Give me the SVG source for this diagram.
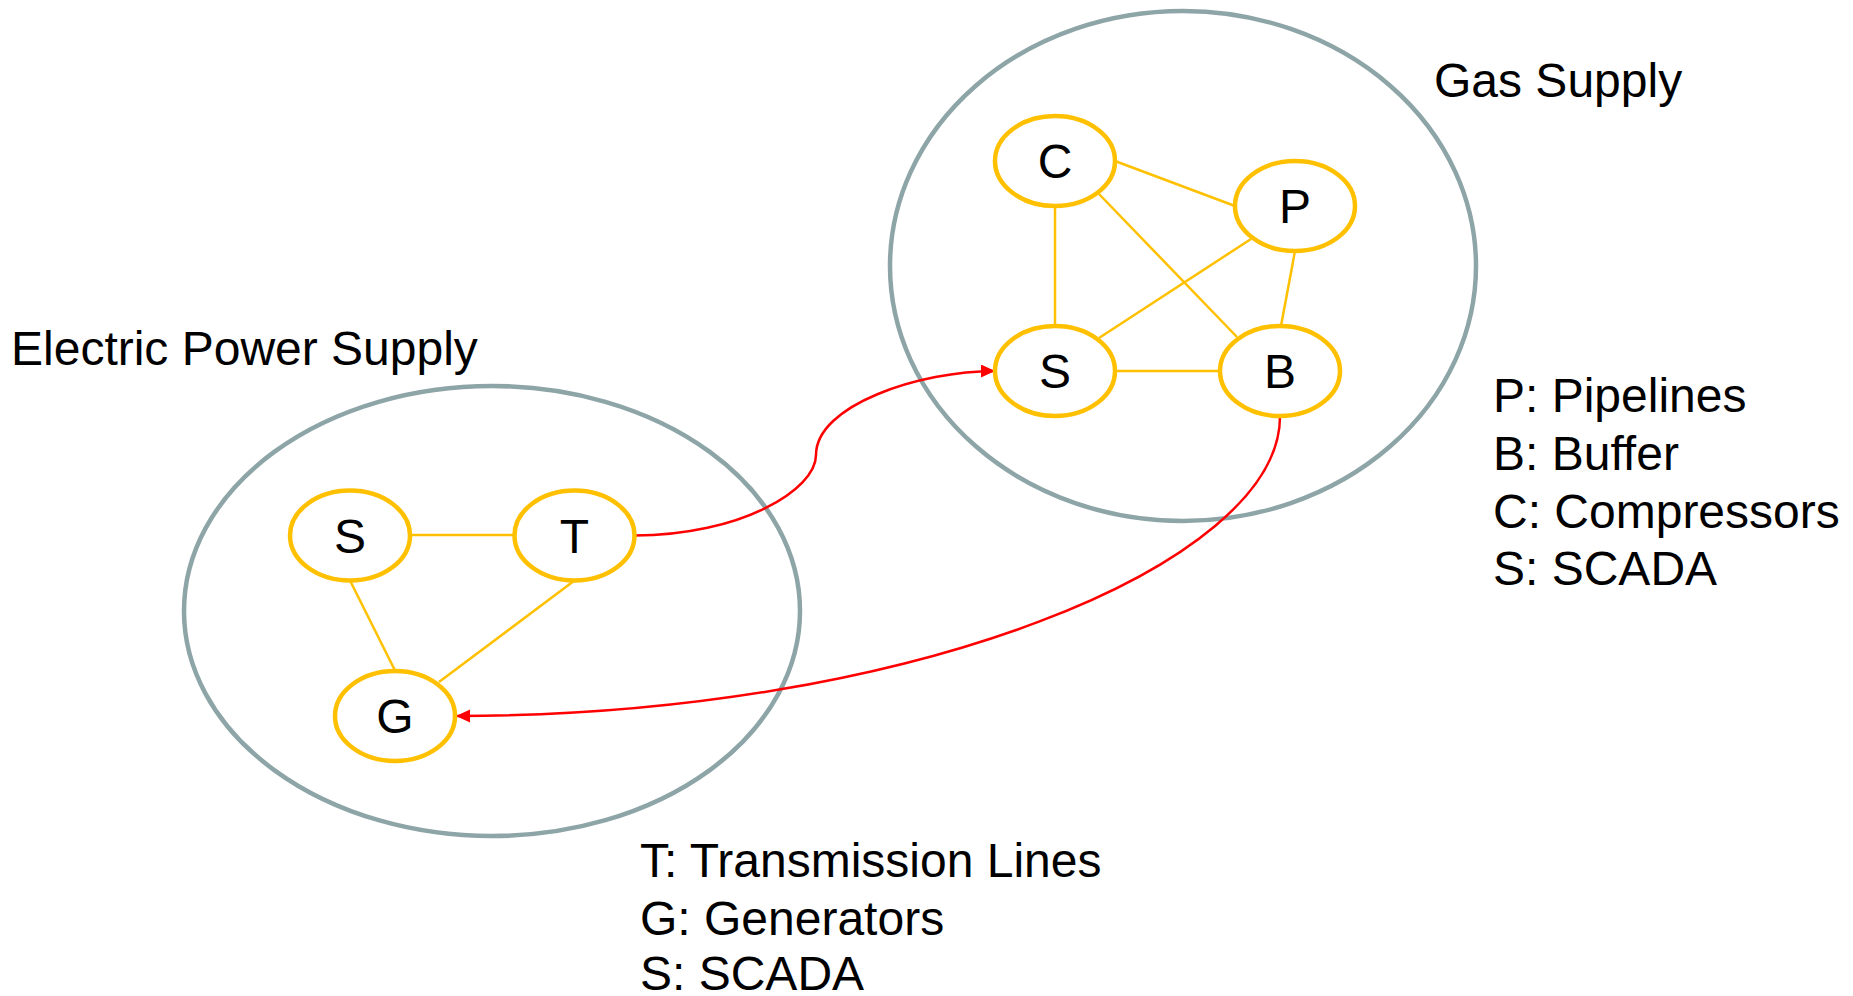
<svg xmlns="http://www.w3.org/2000/svg" width="1853" height="996" viewBox="0 0 1853 996">
<style>
.grp{fill:none;stroke:#8EA5A8;stroke-width:4.5}
.node ellipse{fill:#FFFFFF;stroke:#FFC000;stroke-width:4.5}
.lbl{font-family:"Liberation Sans",Arial,sans-serif;font-size:48px;fill:#000000}
.nl{font-family:"Liberation Sans",Arial,sans-serif;font-size:48px;fill:#000000;text-anchor:middle}
.edge{stroke:#FFC000;stroke-width:2.5;fill:none}
.dep{stroke:#FF0000;stroke-width:2.5;fill:none;marker-end:url(#arr)}
</style>
<defs>
<marker id="arr" markerUnits="userSpaceOnUse" markerWidth="16" markerHeight="14" refX="14" refY="6.5" orient="auto">
<path d="M0,0 L14,6.5 L0,13 z" fill="#FF0000"/>
</marker>
</defs>
<rect width="1853" height="996" fill="#FFFFFF"/>
<g id="gas-supply">
<ellipse class="grp" cx="1183" cy="266" rx="293" ry="255"/>
<text class="lbl" x="1434" y="97">Gas Supply</text>
</g>
<g id="electric-power-supply">
<ellipse class="grp" cx="492" cy="611" rx="308" ry="225"/>
<text class="lbl" x="11" y="365">Electric Power Supply</text>
</g>
<g id="connectors">
<line class="edge" x1="1115" y1="161" x2="1235" y2="206"/>
<line class="edge" x1="1055" y1="206" x2="1055" y2="326"/>
<line class="edge" x1="1099" y1="194" x2="1237" y2="337"/>
<line class="edge" x1="1251" y1="239" x2="1099" y2="338"/>
<line class="edge" x1="1295" y1="251" x2="1281" y2="326"/>
<line class="edge" x1="1115" y1="371" x2="1220" y2="371"/>
<line class="edge" x1="410" y1="535" x2="514.5" y2="535"/>
<line class="edge" x1="350" y1="580.5" x2="395" y2="670.5"/>
<line class="edge" x1="574.5" y1="580.5" x2="439" y2="682"/>
<path class="dep" d="M634.5 535.5 C740 535.5 816 490 816 455 C816 405 920 371 995 371"/>
<path class="dep" d="M1280 416.5 C1280 565 910 716 456 716"/>
</g>
<g id="node-gas-C" class="node"><ellipse cx="1055" cy="161" rx="60" ry="45"/><text class="nl" x="1055" y="178">C</text></g>
<g id="node-gas-P" class="node"><ellipse cx="1295" cy="206" rx="60" ry="45"/><text class="nl" x="1295" y="223">P</text></g>
<g id="node-gas-S" class="node"><ellipse cx="1055" cy="371" rx="60" ry="45"/><text class="nl" x="1055" y="388">S</text></g>
<g id="node-gas-B" class="node"><ellipse cx="1280" cy="371" rx="60" ry="45"/><text class="nl" x="1280" y="388">B</text></g>
<g id="node-el-S" class="node"><ellipse cx="350" cy="535.5" rx="60" ry="45"/><text class="nl" x="350" y="552.5">S</text></g>
<g id="node-el-T" class="node"><ellipse cx="574.5" cy="535.5" rx="60" ry="45"/><text class="nl" x="574.5" y="552.5">T</text></g>
<g id="node-el-G" class="node"><ellipse cx="395" cy="716" rx="60" ry="45"/><text class="nl" x="395" y="733">G</text></g>
<g id="legend-gas">
<text class="lbl" x="1493" y="412">P: Pipelines</text>
<text class="lbl" x="1493" y="470">B: Buffer</text>
<text class="lbl" x="1493" y="528">C: Compressors</text>
<text class="lbl" x="1493" y="585">S: SCADA</text>
</g>
<g id="legend-electric">
<text class="lbl" x="640" y="877">T: Transmission Lines</text>
<text class="lbl" x="640" y="935">G: Generators</text>
<text class="lbl" x="640" y="990">S: SCADA</text>
</g>
</svg>
